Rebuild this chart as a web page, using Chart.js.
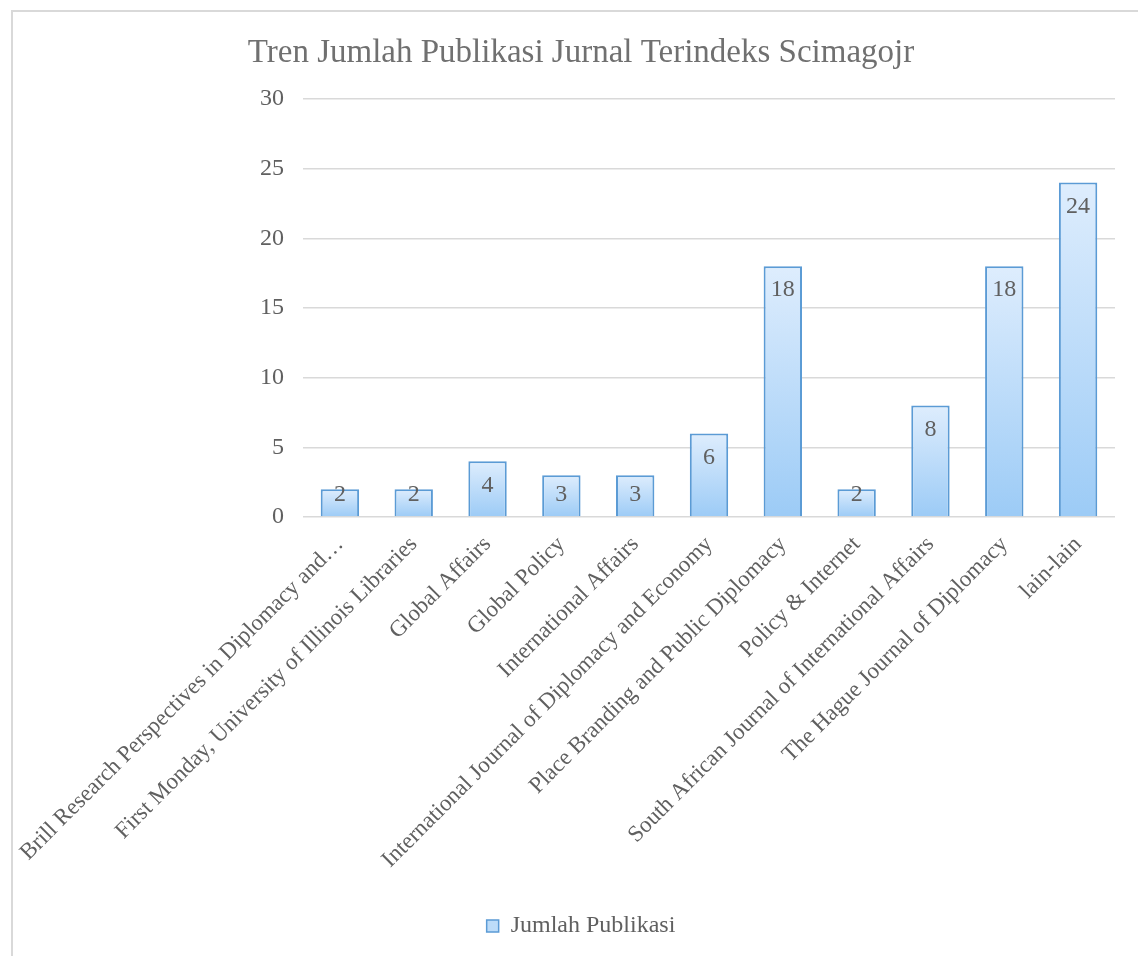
<!DOCTYPE html>
<html>
<head>
<meta charset="utf-8">
<script src="https://cdn.jsdelivr.net/npm/chart.js@4.4.0/dist/chart.umd.min.js"></script>
<style>
  html, body { margin: 0; padding: 0; background: #fff; overflow: hidden; }
  #box {
    position: absolute; left: 11px; top: 10px;
    border-left: 2px solid #d9d9d9; border-top: 2px solid #d9d9d9;
  }
  #chart { display: block; }
</style>
</head>
<body>
<div id="box"><canvas id="chart" width="1136" height="944"></canvas></div>
<script>
/* ---------- data ---------- */
const categories = [
  "Brill Research Perspectives in Diplomacy and\u2026",
  "First Monday, University of Illinois Libraries",
  "Global Affairs",
  "Global Policy",
  "International Affairs",
  "International Journal of Diplomacy and Economy",
  "Place Branding and Public Diplomacy",
  "Policy & Internet",
  "South African Journal of International Affairs",
  "The Hague Journal of Diplomacy",
  "lain-lain"
];
const jumlahPublikasi = [2, 2, 4, 3, 3, 6, 18, 2, 8, 18, 24];
const yTicks = [0, 5, 10, 15, 20, 25, 30];

const SERIF = '"Liberation Serif", "Times New Roman", serif';
const GREY = '#606060';
const PAD_BOTTOM = 8;

// gradient per bar (light top -> darker bottom)
function barFill(ctx) {
  const c = ctx.chart;
  if (ctx.type !== 'data' || !c.chartArea) return '#bcdcf9';
  const y = c.scales.y;
  const top = y.getPixelForValue(ctx.raw);
  const base = y.getPixelForValue(0);
  const g = c.ctx.createLinearGradient(0, top, 0, base);
  g.addColorStop(0, '#deedfd');
  g.addColorStop(1, '#9ccbf6');
  return g;
}

/* ---------- value labels inside bar top ---------- */
const valueLabels = {
  id: 'valueLabels',
  afterDatasetsDraw(chart) {
    const { ctx } = chart;
    const meta = chart.getDatasetMeta(0);
    ctx.save();
    ctx.font = '24px ' + SERIF;
    ctx.fillStyle = GREY;
    ctx.textAlign = 'center';
    ctx.textBaseline = 'middle';
    meta.data.forEach((el, i) => {
      const cy = Math.min(el.y + 24, el.base - 22);
      ctx.fillText(String(jumlahPublikasi[i]), el.x, cy);
    });
    ctx.restore();
  }
};

new Chart(document.getElementById('chart'), {
  type: 'bar',
  data: {
    labels: categories,
    datasets: [{
      label: 'Jumlah Publikasi',
      data: jumlahPublikasi,
      backgroundColor: barFill,
      borderColor: '#5b9bd5',
      borderWidth: 2,
      barPercentage: 0.52,
      categoryPercentage: 1
    }]
  },
  options: {
    responsive: false,
    animation: false,
    layout: { padding: { left: 34, right: 34, top: 0, bottom: PAD_BOTTOM } },
    plugins: {
      title: {
        display: true,
        text: 'Tren Jumlah Publikasi Jurnal Terindeks Scimagojr',
        color: '#707070',
        font: { family: SERIF, size: 33, weight: 'normal' },
        padding: { top: 22, bottom: 25.4 }
      },
      legend: {
        position: 'bottom',
        labels: {
          color: GREY,
          font: { family: SERIF, size: 24 },
          boxWidth: 12,
          boxHeight: 12,
          generateLabels: () => [{
            text: 'Jumlah Publikasi',
            fillStyle: '#bcdcf9',
            strokeStyle: '#5b9bd5',
            lineWidth: 1.5,
            fontColor: GREY,
            datasetIndex: 0
          }]
        }
      },
      tooltip: { enabled: false }
    },
    scales: {
      x: {
        grid: { display: false },
        border: { display: false },
        ticks: {
          color: GREY,
          font: { family: SERIF, size: 23 },
          minRotation: 45,
          maxRotation: 45,
          autoSkip: false,
          padding: 6
        },
        afterFit(s) {
          s.paddingLeft = 0;
          s.paddingRight = 0;
          s.height = s.chart.height - PAD_BOTTOM - s.chart.legend.height - 505;
        }
      },
      y: {
        min: 0,
        max: 30,
        grid: { color: '#d9d9d9', lineWidth: 1.5, drawTicks: false },
        border: { display: false },
        afterBuildTicks(s) {
          s.ticks = yTicks.map(v => ({ value: v }));
        },
        ticks: {
          color: GREY,
          font: { family: SERIF, size: 24 },
          padding: 19
        },
        afterFit(s) {
          s.width = 256;
          s.paddingTop = 0;
          s.paddingBottom = 0;
        }
      }
    }
  },
  plugins: [valueLabels]
});
</script>
</body>
</html>
